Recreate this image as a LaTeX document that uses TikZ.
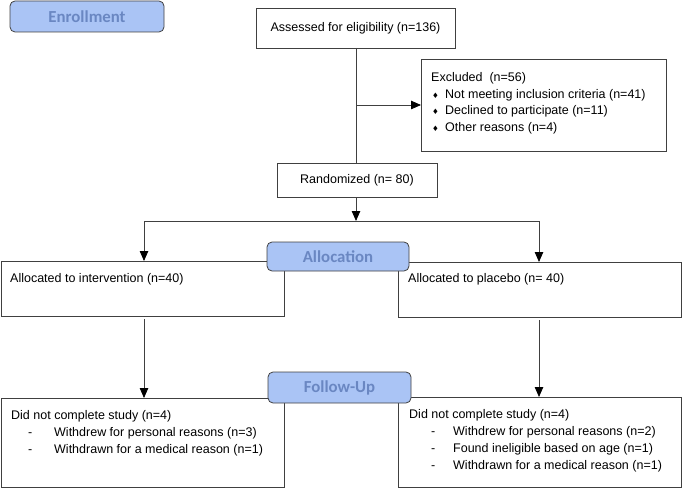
\documentclass[tikz,border=0pt]{standalone}
\usepackage{fontspec}
\setmainfont{Liberation Sans}
\newfontfamily\labelfont{Carlito}
\newfontfamily\symfont{DejaVu Sans}
\usetikzlibrary{arrows.meta}
\definecolor{lblfill}{HTML}{AAC4F5}
\definecolor{lbltext}{HTML}{6A87C2}
\definecolor{lineclr}{HTML}{404040}
\newcommand{\dia}{\makebox[14pt][l]{\hspace*{1pt}{\symfont\fontsize{7.5}{7.5}\selectfont ♦}}}
\newcommand{\dashL}{\hspace*{17pt}\makebox[26pt][l]{-}}
\newcommand{\dashR}{\hspace*{22pt}\makebox[22pt][l]{-}}
\begin{document}
\begin{tikzpicture}[x=1pt,y=-1pt,
  box/.style={draw=lineclr, line width=0.8pt, inner sep=0pt, outer sep=0pt, anchor=north west,
    font=\fontsize{12.5}{16.7}\selectfont},
  lbl/.style={draw=lineclr, fill=lblfill, rounded corners=5pt, line width=0.8pt, text=lbltext,
    font=\labelfont\bfseries\fontsize{16.8}{18}\selectfont, inner sep=0pt, outer sep=0pt, anchor=north west},
  txt/.style={font=\fontsize{12.5}{16.7}\selectfont, align=left, inner sep=0pt, anchor=base west},
  txtb/.style={font=\fontsize{12.5}{17}\selectfont, align=left, inner sep=0pt, anchor=base west},
  arr/.style={draw=lineclr, line width=0.8pt, -{Triangle[length=10pt,width=8.5pt,color=black]}},
  ln/.style={draw=lineclr, line width=0.8pt}]
\useasboundingbox (0,0) rectangle (682,489);
% label boxes
\node[lbl, minimum width=154pt, minimum height=31pt] (enroll) at (10,1) {Enrollment};
% boxes
\node[box, minimum width=199pt, minimum height=40pt] (assess) at (256,8) {Assessed for eligibility (n=136)};
\node[box, minimum width=245pt, minimum height=92pt] (excl) at (421,59) {};
\node[txt] (excltxt) at (431,131.6) {Excluded\ \ (n=56)\\
\dia Not meeting inclusion criteria (n=41)\\
\dia Declined to participate (n=11)\\
\dia Other reasons (n=4)};
\node[box, minimum width=160pt, minimum height=34pt] (rand) at (277,163) {Randomized (n= 80)};
\node[box, minimum width=283pt, minimum height=55pt] (allocL) at (1,261) {};
\node[txt] (allocLtxt) at (10,282.5) {Allocated to intervention (n=40)};
\node[box, minimum width=283pt, minimum height=55pt] (allocR) at (398,262) {};
\node[txt] (allocRtxt) at (408,282.5) {Allocated to placebo (n= 40)};
\node[box, minimum width=283pt, minimum height=89pt] (follL) at (1,398) {};
\node[txtb] (follLtxt) at (11,453.5) {Did not complete study (n=4)\\
\dashL Withdrew for personal reasons (n=3)\\
\dashL Withdrawn for a medical reason (n=1)};
\node[box, minimum width=283pt, minimum height=90pt] (follR) at (398,397) {};
\node[txtb] (follRtxt) at (409,469.5) {Did not complete study (n=4)\\
\dashR Withdrew for personal reasons (n=2)\\
\dashR Found ineligible based on age (n=1)\\
\dashR Withdrawn for a medical reason (n=1)};
\node[lbl, minimum width=142pt, minimum height=29pt] (alloc) at (267,242) {Allocation};
\node[lbl, minimum width=143pt, minimum height=31pt] (follow) at (268,372) {Follow-Up};
% connectors
\coordinate (split) at (356,221);
\coordinate (bl) at (144,221);
\coordinate (br) at (539,221);
\draw[ln] (split |- assess.south) -- (split |- rand.north);
\draw[arr] (split |- excl.west) -- (excl.west);
\draw[arr] (split |- rand.south) -- (split);
\draw[ln] (bl) -- (br);
\draw[arr] (bl) -- (bl |- allocL.north);
\draw[arr] (br) -- (br |- allocR.north);
\draw[arr] ([yshift=-3pt]bl |- allocL.south) -- (bl |- follL.north);
\draw[arr] ([yshift=-3pt]br |- allocR.south) -- (br |- follR.north);
\end{tikzpicture}
\end{document}
